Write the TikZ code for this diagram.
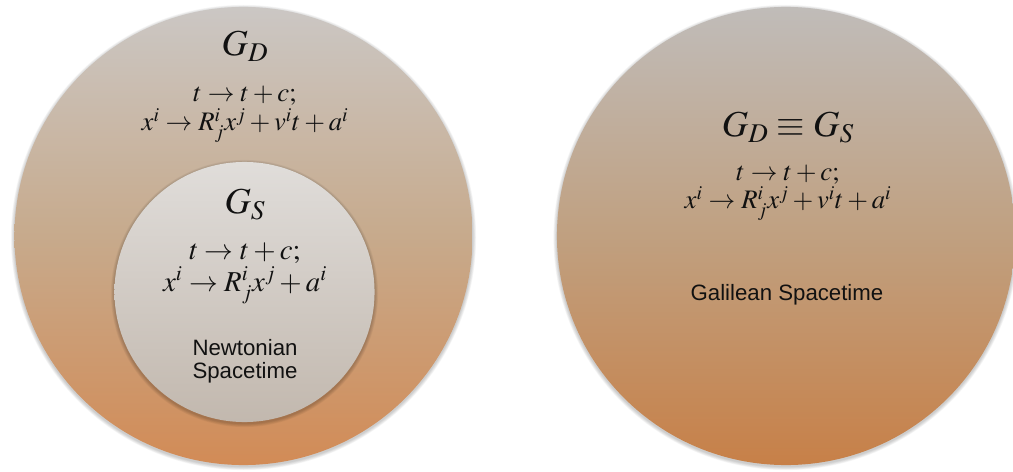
\documentclass[tikz,border=0pt]{standalone}
\usepackage{mathptmx}
\usepackage{fontspec}
\usetikzlibrary{calc}
\newfontfamily\helv{Liberation Sans}
\setlength{\lineskiplimit}{-100pt}
\definecolor{greytop}{RGB}{203,199,196}
\definecolor{tanmid}{RGB}{199,170,140}
\definecolor{orangebot}{RGB}{210,139,86}
\definecolor{greytopR}{RGB}{192,188,185}
\definecolor{tanmidR}{RGB}{192,160,128}
\definecolor{orangebotR}{RGB}{199,128,72}
\definecolor{innertop}{RGB}{224,221,218}
\definecolor{innerbot}{RGB}{194,184,174}
\definecolor{ink}{RGB}{17,17,17}
\tikzset{
  disc/.style={circle, inner sep=0pt, minimum size=#1},
  gname/.style={anchor=base, inner sep=0pt, text=ink, font=\fontsize{26}{30}\selectfont},
  eqn/.style={anchor=base, inner sep=0pt, align=center, text=ink,
    font=\fontsize{19}{#1}\selectfont},
  eqnbig/.style={anchor=base, inner sep=0pt, align=center, text=ink,
    font=\fontsize{20.5}{#1}\selectfont},
  label/.style={anchor=base, inner sep=0pt, align=center, text=ink,
    font=\helv\fontsize{15.8}{16.3}\selectfont},
}
\newcommand{\halo}[2]{% soft shadow round a disc
  \foreach \k in {1,...,6}
    \fill[black, opacity=0.035] ($(#1)+(0,1.5)$) circle[radius=#2+\k*0.6];
}
\begin{document}
\begin{tikzpicture}[x=0.025cm, y=-0.025cm]
  \useasboundingbox (0,0) rectangle (1013,472);
  \coordinate (cL) at (243.5,236);
  \coordinate (cR) at (786,236);
  \coordinate (cS) at (244.5,292);

  % left: direct product
  \halo{cL}{229}
  \node[disc=11.45cm, top color=greytop, bottom color=orangebot, middle color=tanmid] (dyn) at (cL) {};
  \node[gname] (gd) at (245,56) {$G_D$};
  \node[eqn=21] (dtrans) at (245,131)
    {$t \rightarrow t + c;$\\ $x^i \rightarrow R^i_j x^j + v^i t + a^i$};

  % inner: static
  \halo{cS}{130}
  \node[disc=6.5cm, top color=innertop, bottom color=innerbot] (stat) at (cS) {};
  \node[gname] (gs) at (245,214) {$G_S$};
  \node[eqnbig=22.5] (strans) at (245,291)
    {$t \rightarrow t + c;$\\ $x^i \rightarrow R^i_j x^j + a^i$};
  \node[label] (newt) at (245,378) {Newtonian\\ Spacetime};

  % right: galilean
  \halo{cR}{229}
  \node[disc=11.45cm, top color=greytopR, bottom color=orangebotR, middle color=tanmidR] (gal) at (cR) {};
  \node[gname] (gds) at (788,137) {$G_D \equiv G_S$};
  \node[eqn=20] (gtrans) at (788,209)
    {$t \rightarrow t + c;$\\ $x^i \rightarrow R^i_j x^j + v^i t + a^i$};
  \node[label] (gali) at (787,300) {Galilean Spacetime};
\end{tikzpicture}
\end{document}
